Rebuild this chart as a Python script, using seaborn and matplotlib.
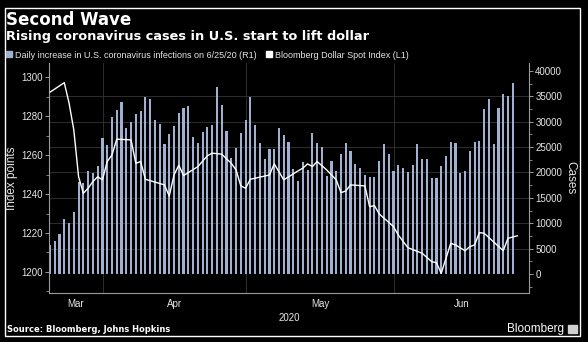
import matplotlib
matplotlib.use("Agg")
import matplotlib.pyplot as plt
import seaborn as sns
import numpy as np
import pandas as pd
from matplotlib.lines import Line2D
from matplotlib.patches import Rectangle
from matplotlib.ticker import FixedLocator, MultipleLocator, NullFormatter, FixedFormatter

# ---- data (days counted from 2020-03-20) ----
case_days = list(range(98))
cases = [5710, 6500, 7820, 10770, 10110, 12280, 18190, 17990, 20290, 19830,
         21270, 26850, 25410, 30990, 32300, 33940, 28830, 30010, 31460, 32110,
         34800, 34410, 30340, 29490, 25610, 27650, 29160, 31780, 32640, 33100,
         27050, 25870, 28040, 28900, 29350, 36900, 33290, 28170, 22850, 24760,
         27840, 30270, 34800, 29350, 25900, 22720, 24600, 24600, 28860, 27350,
         26060, 20620, 18380, 22060, 20490, 27710, 25870, 24960, 19310, 22320,
         20290, 23580, 25870, 24290, 21670, 20940, 19440, 19170, 19050, 22260,
         25610, 23580, 20350, 21530, 20820, 20150, 21470, 25610, 22660, 22660,
         18910, 18910, 21340, 23250, 26070, 25870, 19960, 20350, 24230, 26070,
         26200, 32510, 34410, 25550, 32640, 35460, 35130, 37690]

index_days = [0, 3, 4, 5, 6, 7, 8, 9, 10, 11, 12, 13, 14, 17, 18, 19, 20, 24, 25, 26,
              27, 28, 31, 33, 34, 36, 38, 39, 40, 41, 42, 46, 47, 49, 52, 53, 54, 55, 56, 58,
              60, 61, 62, 63, 66, 67, 68, 69, 72, 73, 75, 78, 80, 81, 82, 84, 85, 87, 88, 89,
              90, 91, 95, 96, 98]
index_vals = [1292.3, 1297.2, 1286.8, 1272.9, 1248.9, 1240.4, 1243.0, 1246.4, 1248.9, 1247.3,
              1256.7, 1260.1, 1268.2, 1267.8, 1255.8, 1256.7, 1247.6, 1244.7, 1239.0, 1249.8,
              1254.8, 1249.5, 1254.1, 1259.7, 1261.0, 1260.5, 1255.8, 1252.4, 1244.2, 1243.0,
              1247.6, 1249.8, 1255.5, 1247.3, 1251.9, 1253.3, 1255.5, 1254.1, 1256.7, 1252.4,
              1247.3, 1240.7, 1241.6, 1244.7, 1244.2, 1233.5, 1234.1, 1229.8, 1223.3, 1219.0,
              1212.5, 1209.6, 1205.3, 1204.8, 1199.3, 1214.7, 1213.9, 1210.9, 1213.0, 1213.9,
              1220.2, 1219.9, 1210.9, 1217.3, 1218.6]

month_names = ["Mar", "Apr", "May", "Jun"]
month_starts = [12, 42, 73]          # Apr 1, May 1, Jun 1 (days from Mar 20)
left_ticks = [1200, 1220, 1240, 1260, 1280, 1300]
right_ticks = [0, 5000, 10000, 15000, 20000, 25000, 30000, 35000, 40000]

title = "Second Wave"
subtitle = "Rising coronavirus cases in U.S. start to lift dollar"
bar_label = "Daily increase in U.S. coronavirus infections on 6/25/20 (R1)"
line_label = "Bloomberg Dollar Spot Index (L1)"
source = "Source: Bloomberg, Johns Hopkins"

# ---- style ----
BG = "black"
TXT = "#e6e6e6"
BAR_C = "#9fb0d0"
GRID_C = "#2e2e2e"
SPINE_C = "#9a9a9a"
sns.set_theme(style="dark")
plt.rcParams["font.family"] = ["Liberation Sans", "DejaVu Sans"]

fig = plt.figure(figsize=(5.88, 3.42), dpi=100, facecolor=BG)
ax = fig.add_axes([49 / 588, 1 - 293 / 342, 480 / 588, 230 / 342])
ax.set_facecolor(BG)

df_c = pd.DataFrame({"day": case_days, "cases": cases})
sns.barplot(data=df_c, x="day", y="cases", native_scale=True, width=0.45,
            color=BAR_C, saturation=1, ax=ax, zorder=2, linewidth=0)

ax2 = ax.twinx()
df_i = pd.DataFrame({"day": index_days, "val": index_vals})
sns.lineplot(data=df_i, x="day", y="val", color="white", lw=1.0, ax=ax2, zorder=3)

xlim = (-0.2, 100.4)
ax.set_xlim(*xlim)
ax.set_ylim(-3740, 41570)
ax2.set_ylim(1189.2, 1307.3)

# right axis (cases) on the bars axis
ax.yaxis.tick_right()
ax.yaxis.set_label_position("right")
ax.set_yticks(right_ticks)
ax.set_yticklabels([str(t) for t in right_ticks])
ax.yaxis.set_minor_locator(MultipleLocator(2500))
ax.set_ylabel("Cases", rotation=-90, color=TXT, fontsize=8.5, va="center")
ax.yaxis.set_label_coords((570 - 49) / 480, 0.5)

# left axis (index) on the line axis
ax2.yaxis.tick_left()
ax2.yaxis.set_label_position("left")
ax2.set_yticks(left_ticks)
ax2.set_yticklabels([str(t) for t in left_ticks])
ax2.yaxis.set_minor_locator(MultipleLocator(10))
ax2.set_ylabel("Index points", color=TXT, fontsize=8.5, va="center")
ax2.yaxis.set_label_coords((12.5 - 49) / 480, 0.5)
ax2.set_xlabel("")

# x axis: boundaries as major ticks, month names centered
bounds = [m - 0.9 for m in month_starts]
edges = [xlim[0]] + bounds + [xlim[1]]
centers = [(edges[i] + edges[i + 1]) / 2 for i in range(len(month_names))]
ax.xaxis.set_major_locator(FixedLocator(bounds))
ax.xaxis.set_major_formatter(NullFormatter())
ax.xaxis.set_minor_locator(FixedLocator(centers))
ax.xaxis.set_minor_formatter(FixedFormatter(month_names))
ax.set_xlabel("2020", color=TXT, fontsize=7, labelpad=3)

for a in (ax, ax2):
    a.tick_params(axis="both", which="both", colors=SPINE_C, labelcolor=TXT, labelsize=7,
                  direction="out")
    a.tick_params(axis="y", which="major", length=3, width=0.7, pad=1.5)
    a.tick_params(axis="y", which="minor", length=2, width=0.6)
    for s in a.spines.values():
        s.set_visible(False)
ax.tick_params(axis="x", which="major", length=3, width=0.7)
ax.tick_params(axis="x", which="minor", length=0, pad=4)
for s in ("bottom", "right", "left"):
    ax.spines[s].set_visible(True)
    ax.spines[s].set_color(SPINE_C)
    ax.spines[s].set_linewidth(0.8)

ax.grid(False)
ax2.grid(False)
for t in right_ticks[1:-1]:
    ax.axhline(t, color=GRID_C, lw=0.7, zorder=1)
for b in bounds:
    ax.axvline(b, color=GRID_C, lw=0.7, zorder=1)

# titles and legend
fig.text(6 / 588, 1 - 20 / 342, title, color="white", fontsize=12, fontweight="bold",
         family="DejaVu Sans", va="center", ha="left")
fig.text(6 / 588, 1 - 36.5 / 342, subtitle, color="white", fontsize=9.3, fontweight="bold",
         family="DejaVu Sans", va="center", ha="left")
handles = [Line2D([], [], marker="s", ls="", color=BAR_C, markersize=4),
           Line2D([], [], marker="s", ls="", color="white", markersize=4)]
leg = fig.legend(handles, [bar_label, line_label], ncol=2, loc="center left",
                 bbox_to_anchor=(0.0, 1 - 55 / 342), frameon=False, fontsize=6.5,
                 handlelength=0.7, handletextpad=0.3, columnspacing=1.0, borderaxespad=0.3)
for t in leg.get_texts():
    t.set_color(TXT)

fig.text(7 / 588, 1 - 329.5 / 342, source, color="white", fontsize=6, fontweight="bold",
         family="DejaVu Sans", va="center", ha="left")
fig.text(564 / 588, 1 - 329 / 342, "Bloomberg", color="white", fontsize=8.5,
         va="center", ha="right")
fig.patches.append(Rectangle((568 / 588, 1 - 333 / 342), 9 / 588, 8 / 342,
                             transform=fig.transFigure, color="#d0d0d0"))
fig.patches.append(Rectangle((5 / 588, 1 - 336 / 342), 575 / 588, 328 / 342,
                             transform=fig.transFigure, fill=False, ec="white", lw=1))

fig.savefig("out.png", dpi=100, facecolor=BG)
